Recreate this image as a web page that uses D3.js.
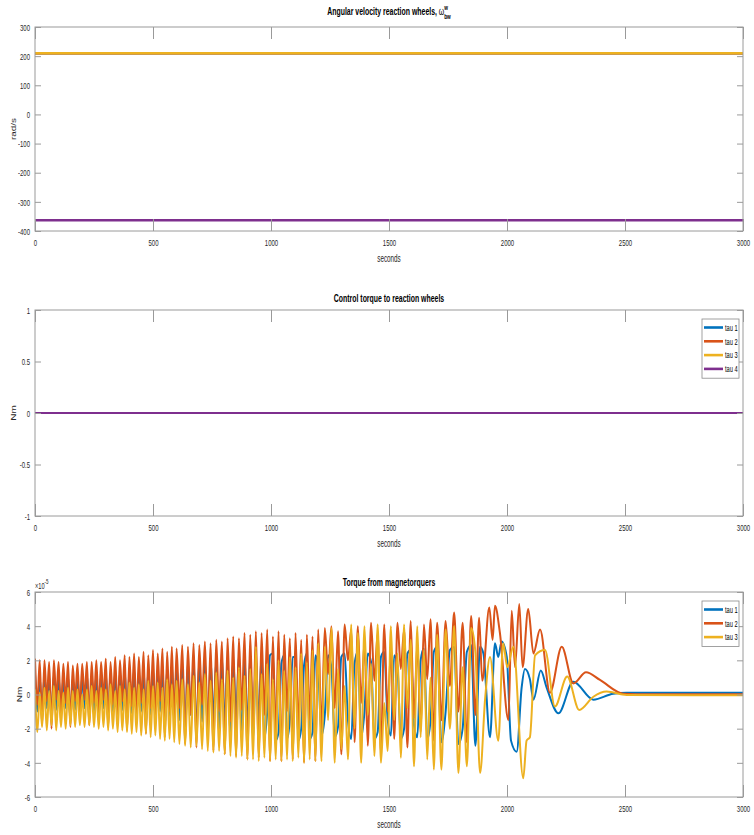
<!DOCTYPE html>
<html><head><meta charset="utf-8">
<script src="https://cdn.jsdelivr.net/npm/d3@7"></script>
<style>body{margin:0;background:#fff;} svg{display:block;font-family:"Liberation Sans",Arial,Helvetica,sans-serif;}</style>
</head><body><svg id="c" width="754" height="835"></svg>
<script>
// ---------------- DATA ----------------
const xTickVals = [0, 500, 1000, 1500, 2000, 2500, 3000];
const seriesColors = ["#0072BD", "#D95319", "#EDB120", "#7E2F8E"];

// Panel 1: angular velocity of the reaction wheels (rad/s)
const wheelTime = [0, 3000];
const wheel1 = [210, 210];
const wheel2 = [210, 210];
const wheel3 = [210, 210];
const wheel4 = [-363, -363];
const wheelYTicks = [-400, -300, -200, -100, 0, 100, 200, 300];

// Panel 2: control torque to reaction wheels (Nm)
const ctrlTime = [0, 3000];
const ctrl1 = [0, 0];
const ctrl2 = [0, 0];
const ctrl3 = [0, 0];
const ctrl4 = [0, 0];
const ctrlYTicks = [-1, -0.5, 0, 0.5, 1];
const ctrlLegend = ["tau 1", "tau 2", "tau 3", "tau 4"];

// Panel 3: torque from magnetorquers (units of 1e-5 Nm)
const mtqTime = [0,10,20,30,40,50,60,70,80,90,100,110,120,130,140,150,160,170,180,190,200,210,220,230,240,250,260,270,280,290,300,310,320,330,340,350,360,370,380,390,400,410,420,430,440,450,460,470,480,490,500,510,520,530,540,550,560,570,580,590,600,
612,624,636,648,660,672,684,696,708,720,732,744,756,768,780,792,804,816,828,840,852,864,876,888,900,912,924,936,948,960,972,984,996,1008,1020,1032,1044,1056,1068,1080,1092,1104,1116,1128,1140,1152,1164,1176,1188,1200,
1214,1228,1242,1256,1270,1284,1298,1312,1326,1340,1354,1368,1382,1396,1410,1424,1438,1452,1466,1480,1494,1508,1522,1536,1550,1564,1578,1592,1606,1620,1634,1648,1662,1676,1690,1704,
1722,1740,1758,1776,1794,1812,1830,1848,1866];

const mtq1 = [1.2,-1.0,1.1,-1.4,1.2,-0.8,1.1,-1.5,1.2,-0.9,
1.1,-1.2,1.0,-0.8,1.1,-1.5,1.0,-0.9,1.1,-1.2,
1.1,-0.8,1.2,-1.4,1.1,-1.0,1.2,-1.3,1.2,-0.8,
1.3,-1.5,1.2,-1.0,1.4,-1.2,1.3,-0.9,1.5,-1.6,
1.4,-1.1,1.5,-1.4,1.4,-1.0,1.6,-1.8,1.5,-1.2,
1.6,-1.5,1.5,-1.0,1.7,-2.0,1.6,-1.3,1.8,-1.7,
1.8,
-1.5,1.8,-2.1,1.9,-1.2,1.9,-2.2,2.0,-1.6,2.0,
-2.3,2.1,-1.4,2.0,-2.4,2.2,-1.8,2.1,-2.5,2.2,
-1.5,2.3,-2.6,2.2,-2.0,2.3,-2.7,2.2,-1.6,2.4,
-2.6,-1.0,2.3,2.4,-2.7,-2.2,1.8,2.3,-2.6,-1.4,
2.2,2.2,-2.7,-2.0,1.7,2.4,-2.6,-2.2,2.3,1.5,
-2.4,-1.2,2.3,1.6,-2.5,-1.9,2.2,2.4,-1.5,-2.6,
1.8,2.5,-2.5,-1.0,2.4,1.9,-2.6,-2.2,2.2,2.5,
-1.4,-2.4,2.3,1.6,-2.6,-2.0,2.4,2.6,-1.8,-2.5,
2.0,2.7,-2.6,-1.5,2.5,2.8,
-2.8,-1.0,2.6,2.8,-2.9,-2.0,2.5,2.9,-3.0];

const mtq2 = [2.1,-0.6,2.0,-1.8,2.0,-0.4,1.9,-2.0,2.0,-0.3,
1.9,-1.2,1.8,-0.5,1.9,-1.9,1.7,-0.4,1.8,-1.0,
1.8,-0.3,1.9,-1.8,1.9,-0.5,2.0,-1.1,1.9,-0.3,
2.1,-1.9,1.9,-0.6,2.2,-1.3,2.0,-0.4,2.3,-2.1,
2.2,-0.7,2.4,-1.5,2.2,-0.5,2.5,-2.3,2.3,-0.8,
2.6,-1.6,2.4,-0.4,2.7,-2.5,2.5,-1.0,2.8,-1.8,
2.7,
-0.8,2.9,-2.9,2.8,-1.2,3.0,-3.1,2.9,-0.6,3.1,
-2.2,3.0,-3.3,3.2,-1.0,3.1,-3.5,3.3,-1.6,3.4,
-3.6,3.3,-0.9,3.6,-3.8,3.5,-2.0,3.7,-3.7,3.6,
-1.2,3.8,-3.9,3.4,-2.5,3.7,-3.9,3.5,-1.0,3.3,
-3.8,3.6,-2.2,3.2,-4.0,3.5,-1.5,3.4,-3.9,3.8,
-2.0,3.9,1.2,4.0,-0.8,3.7,-3.5,4.1,2.0,3.8,
-2.8,4.0,-0.5,3.1,-3.0,4.2,0.8,3.6,-3.4,4.1,
-1.0,2.5,-2.6,4.2,1.5,3.8,-3.1,4.3,-1.4,3.0,
-2.2,4.1,0.9,4.4,-2.7,4.2,
-1.5,4.3,0.5,4.8,-1.0,4.2,-2.8,4.6,-1.2];

const mtq3 = [0.3,-2.2,0.1,-1.9,0.4,-2.1,0.2,-1.8,0.5,-2.1,
0.2,-1.9,0.1,-2.0,0.4,-1.8,0.2,-1.9,0.3,-1.8,
0.0,-1.9,0.3,-1.8,0.5,-1.9,0.2,-2.0,0.4,-1.9,
0.3,-2.1,0.6,-2.0,0.2,-2.2,0.5,-2.1,0.3,-2.2,
0.7,-2.3,0.4,-2.2,0.6,-2.4,0.3,-2.3,0.8,-2.5,
0.5,-2.4,0.7,-2.6,0.4,-2.7,0.9,-2.6,0.6,-2.8,
0.8,
-2.9,0.9,-3.0,0.6,-3.1,1.1,-3.0,0.7,-3.2,1.2,
-3.3,0.8,-3.4,1.3,-3.3,0.9,-3.5,1.4,-3.6,1.0,
-3.7,1.6,-3.6,1.1,-3.8,1.5,-3.8,2.8,-3.9,1.2,
-3.7,1.8,-3.9,0.9,-3.8,2.0,-3.9,1.4,-3.8,2.2,
-3.9,1.6,-3.7,2.4,-4.0,1.9,-3.8,2.6,-3.9,3.0,
-3.9,2.8,-1.5,3.9,-4.0,1.5,-3.2,0.5,-3.8,4.1,
-2.0,3.6,-4.0,4.0,-1.2,1.8,-3.6,4.1,-4.0,-0.5,
-3.3,4.0,-1.5,2.4,-3.7,4.1,-0.8,3.2,-4.2,4.0,
-2.5,2.6,-3.8,1.0,-4.4,3.5,
-4.4,3.8,-2.0,4.0,-4.6,1.6,-4.2,3.9,2.5];

// damped tails after ~1880 s
const tail1Time = [1886,1900,1928,1949,1963,1977,1999,2017,2041,2062,2076,2097,2112,2143,2168,2218,2281,2366,2450,2507,3000];
const tail1 = [2.8,2.4,-2.5,3.0,2.2,3.1,2.2,-2.7,-3.35,0.4,1.5,0.9,-0.3,1.4,0.4,-1.1,0.75,-0.3,0.05,0.1,0.1];
const tail2Time = [1882,1895,1925,1939,1949,1970,2006,2020,2034,2052,2066,2090,2112,2140,2182,2232,2281,2335,2394,2493,2600,3000];
const tail2 = [4.5,0.8,5.1,3.2,5.2,3.6,-1.5,4.9,1.6,5.3,1.6,5.0,2.4,3.8,0.1,2.8,0.65,1.3,0.85,0.05,0.02,0.02];
const tail3Time = [1886,1907,1928,1963,1984,2001,2027,2069,2083,2097,2119,2161,2203,2255,2306,2366,2422,2507,3000];
const tail3 = [-4.6,-0.3,2.2,-2.7,3.0,1.6,2.8,-4.9,-2.7,-2.5,2.3,2.6,-0.7,1.05,-0.9,-0.13,0.17,-0.03,-0.05];
const mtqYTicks = [-6, -4, -2, 0, 2, 4, 6];
const mtqLegend = ["tau 1", "tau 2", "tau 3"];

// ---------------- DRAWING ----------------
const SX = 0.63;
const svg = d3.select("#c");
const L = 35, R = 743;

function zip(ts, vs) {
  const n = Math.min(ts.length, vs.length);
  const out = [];
  for (let i = 0; i < n; i++) out.push([ts[i], vs[i]]);
  return out;
}

function label(parent, x, y, str, o = {}) {
  return parent.append("text")
    .attr("transform", `translate(${x},${y}) scale(${o.sx ?? SX},1)` + (o.rot ? ` rotate(${o.rot})` : ""))
    .attr("text-anchor", o.anchor || "middle")
    .attr("font-size", o.size || 9.5)
    .attr("font-weight", o.weight || "normal")
    .attr("fill", o.fill || "#262626")
    .text(str);
}

function panel(cfg, idx) {
  const { top: T, bottom: B } = cfg;
  const g = svg.append("g");
  const x = d3.scaleLinear().domain([0, 3000]).range([L, R]);
  const y = d3.scaleLinear().domain(cfg.yDomain).range([B, T]);

  const clipId = "clip" + idx;
  g.append("clipPath").attr("id", clipId).append("rect")
    .attr("x", L).attr("y", T).attr("width", R - L).attr("height", B - T);

  const line = d3.line().x(d => x(d[0])).y(d => y(d[1])).curve(cfg.curve || d3.curveLinear);
  const dg = g.append("g").attr("clip-path", `url(#${clipId})`);
  cfg.series.forEach((s, i) => {
    dg.append("path").datum(s).attr("d", line)
      .attr("fill", "none").attr("stroke", seriesColors[i])
      .attr("stroke-width", cfg.lw).attr("stroke-linejoin", "round");
  });

  const axCol = "#9a9a9a";
  const fmt = d => String(d);
  const gb = g.append("g").attr("transform", `translate(0,${B})`)
    .call(d3.axisBottom(x).tickValues(xTickVals).tickSizeInner(-12).tickSizeOuter(0).tickFormat(fmt));
  const gt = g.append("g").attr("transform", `translate(0,${T})`)
    .call(d3.axisTop(x).tickValues(xTickVals).tickSizeInner(-12).tickSizeOuter(0).tickFormat(""));
  const gl = g.append("g").attr("transform", `translate(${L},0)`)
    .call(d3.axisLeft(y).tickValues(cfg.yTicks).tickSizeInner(-6).tickSizeOuter(0).tickFormat(fmt));
  const gr = g.append("g").attr("transform", `translate(${R},0)`)
    .call(d3.axisRight(y).tickValues(cfg.yTicks).tickSizeInner(-6).tickSizeOuter(0).tickFormat(""));
  [gb, gt, gl, gr].forEach(a => {
    a.select(".domain").remove();
    a.selectAll(".tick line").attr("stroke", axCol);
    a.selectAll("text").attr("fill", "#262626").attr("font-size", 9.5).attr("font-family", null);
  });
  gb.selectAll(".tick text").attr("y", 15).attr("dy", 0).attr("transform", `scale(${SX},1)`);
  gl.selectAll(".tick text").attr("x", -5 / SX).attr("dy", "0.34em").attr("transform", `scale(${SX},1)`);

  g.append("rect").attr("x", L).attr("y", T).attr("width", R - L).attr("height", B - T)
    .attr("fill", "none").attr("stroke", axCol).attr("stroke-width", 1);

  if (cfg.titleFn) cfg.titleFn(g, (L + R) / 2, cfg.titleY);
  else label(g, (L + R) / 2, cfg.titleY, cfg.title, { size: 11, weight: "bold", fill: "#000" });
  label(g, (L + R) / 2, B + 31, "seconds", { size: 10 });
  label(g, cfg.ylabX, (T + B) / 2, cfg.ylabel, { size: 10, rot: -90 });

  if (cfg.legend) {
    const lx = R - 41, ly = T + 9, rowH = 13.8;
    const h = cfg.legend.length * rowH + 4;
    g.append("rect").attr("x", lx).attr("y", ly).attr("width", 37).attr("height", h)
      .attr("fill", "#fff").attr("stroke", "#8a8a8a").attr("stroke-width", 0.8);
    cfg.legend.forEach((name, i) => {
      const cy = ly + 8.5 + i * rowH;
      g.append("line").attr("x1", lx + 2).attr("x2", lx + 21).attr("y1", cy).attr("y2", cy)
        .attr("stroke", seriesColors[i]).attr("stroke-width", 2.6);
      label(g, lx + 23, cy + 3.2, name, { anchor: "start", size: 9, fill: "#000" });
    });
  }
  if (cfg.extra) cfg.extra(g);
}

panel({
  top: 27, bottom: 231, yDomain: [-400, 300], yTicks: wheelYTicks,
  series: [zip(wheelTime, wheel1), zip(wheelTime, wheel2), zip(wheelTime, wheel3), zip(wheelTime, wheel4)],
  lw: 2.6, titleY: 15, ylabel: "rad/s", ylabX: 16,
  titleFn: (g, cx, cy) => {
    const t = g.append("text").attr("transform", `translate(${cx},${cy}) scale(${SX},1)`)
      .attr("text-anchor", "middle").attr("font-size", 11).attr("font-weight", "bold").attr("fill", "#000");
    t.append("tspan").text("Angular velocity reaction wheels, ");
    t.append("tspan").attr("font-weight", "normal").text("ω");
    t.append("tspan").attr("font-size", 7.5).attr("dy", -5).text("w");
    t.append("tspan").attr("font-size", 7.5).attr("dx", -6).attr("dy", 9).text("bw");
  }
}, 1);

panel({
  top: 310, bottom: 516, yDomain: [-1, 1], yTicks: ctrlYTicks,
  series: [zip(ctrlTime, ctrl1), zip(ctrlTime, ctrl2), zip(ctrlTime, ctrl3), zip(ctrlTime, ctrl4)],
  lw: 2.2, titleY: 302, title: "Control torque to reaction wheels", ylabel: "Nm", ylabX: 16,
  legend: ctrlLegend
}, 2);

panel({
  top: 592, bottom: 797, yDomain: [-6, 6], yTicks: mtqYTicks,
  series: [
    zip(mtqTime, mtq1).concat(zip(tail1Time, tail1)),
    zip(mtqTime, mtq2).concat(zip(tail2Time, tail2)),
    zip(mtqTime, mtq3).concat(zip(tail3Time, tail3))
  ],
  curve: d3.curveMonotoneX,
  lw: 2, titleY: 586, title: "Torque from magnetorquers", ylabel: "Nm", ylabX: 22,
  legend: mtqLegend,
  extra: g => {
    const t = g.append("text").attr("transform", `translate(${L},589) scale(${SX},1)`)
      .attr("font-size", 9).attr("fill", "#262626");
    t.append("tspan").text("×10");
    t.append("tspan").attr("font-size", 7).attr("dy", -5).text("-5");
  }
}, 3);
</script></body></html>
